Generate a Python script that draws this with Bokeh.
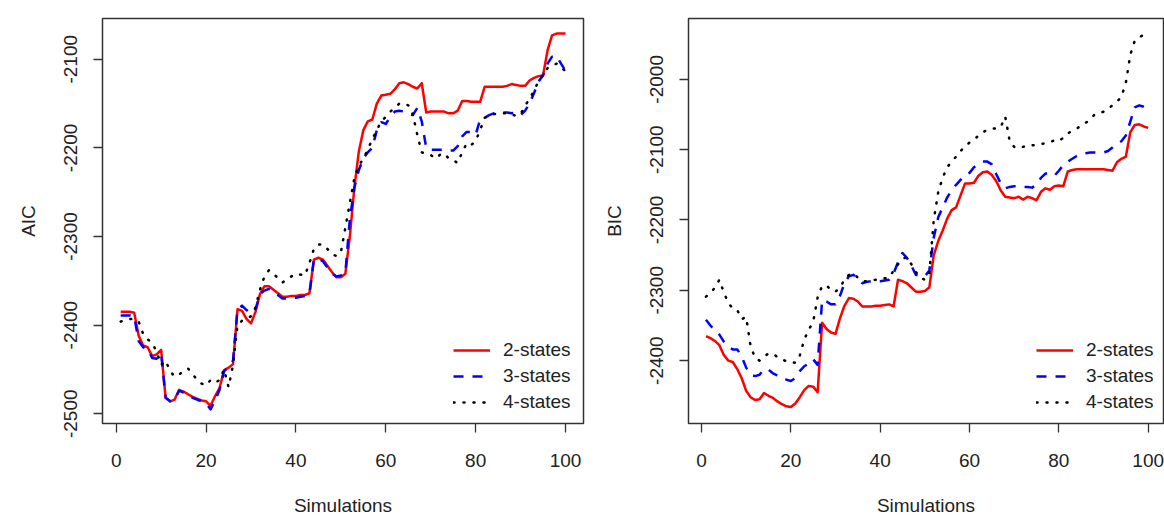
from bokeh.plotting import figure
from bokeh.layouts import row
from bokeh.models import FixedTicker, Range1d, Legend, LegendItem
from bokeh.embed import file_html
from bokeh.resources import INLINE

sims = list(range(1, 101))

aic_2states = [
    -2385, -2385, -2385, -2386, -2412, -2423, -2425, -2435, -2433, -2428,
    -2482, -2486, -2484, -2473, -2475, -2478, -2481, -2483, -2485, -2486,
    -2491, -2480, -2471, -2451, -2448, -2444, -2382, -2384, -2393, -2398,
    -2385, -2365, -2356, -2356, -2360, -2364, -2368, -2368, -2367, -2367,
    -2366, -2366, -2364, -2326, -2324, -2326, -2333, -2340, -2346, -2346,
    -2342, -2300, -2245, -2204, -2180, -2170, -2168, -2150, -2141, -2140,
    -2139, -2134, -2127, -2126, -2128, -2131, -2133, -2127, -2160, -2159,
    -2159, -2159, -2159, -2161, -2161, -2158, -2147, -2147, -2148, -2148,
    -2148, -2131, -2131, -2131, -2131, -2131, -2130, -2128, -2129, -2130,
    -2130, -2124, -2121, -2119, -2118, -2090, -2073, -2071, -2071, -2071]

aic_3states = [
    -2389, -2389, -2389, -2390, -2418, -2425, -2427, -2437, -2438, -2432,
    -2482, -2486, -2484, -2474, -2476, -2479, -2482, -2484, -2486, -2488,
    -2495, -2485, -2473, -2452, -2447, -2440, -2382, -2378, -2383, -2387,
    -2382, -2365, -2361, -2359, -2362, -2366, -2370, -2370, -2369, -2369,
    -2368, -2367, -2365, -2326, -2325, -2328, -2335, -2342, -2345, -2344,
    -2341, -2280, -2245, -2225, -2212, -2205, -2200, -2180, -2171, -2173,
    -2165, -2159, -2158, -2159, -2162, -2163, -2155, -2170, -2200, -2202,
    -2202, -2202, -2202, -2203, -2203, -2198, -2187, -2182, -2182, -2185,
    -2168, -2166, -2163, -2161, -2160, -2160, -2160, -2161, -2160, -2163,
    -2158, -2150, -2138, -2125, -2118, -2105, -2097, -2096, -2105, -2113]

aic_4states = [
    -2396, -2394, -2393, -2393, -2396, -2410, -2416, -2420, -2430, -2445,
    -2440, -2452, -2458, -2456, -2451, -2449, -2455, -2462, -2466, -2468,
    -2462, -2465, -2462, -2450, -2470, -2445, -2400, -2395, -2393, -2390,
    -2380, -2360, -2345, -2338, -2342, -2347, -2352, -2348, -2345, -2342,
    -2343, -2344, -2330, -2314, -2309, -2309, -2314, -2320, -2322, -2318,
    -2290, -2262, -2234, -2220, -2212, -2202, -2190, -2180, -2170, -2165,
    -2159, -2155, -2150, -2150, -2152, -2162, -2185, -2205, -2207, -2208,
    -2212, -2208, -2206, -2212, -2214, -2217, -2205, -2195, -2197, -2192,
    -2180, -2166, -2164, -2162, -2161, -2161, -2161, -2162, -2164, -2162,
    -2152, -2145, -2135, -2125, -2118, -2110, -2107, -2105, -2110, -2113]

bic_2states = [
    -2365, -2368, -2372, -2378, -2392, -2400, -2402, -2412, -2425, -2443,
    -2452, -2456, -2455, -2446, -2450, -2453, -2458, -2462, -2465, -2466,
    -2461, -2452, -2442, -2436, -2437, -2445, -2346, -2355, -2360, -2362,
    -2340, -2322, -2311, -2312, -2316, -2323, -2323, -2323, -2322, -2322,
    -2321, -2320, -2323, -2285, -2287, -2290, -2296, -2302, -2302, -2301,
    -2296, -2250, -2230, -2215, -2198, -2186, -2182, -2165, -2148, -2148,
    -2147, -2137, -2132, -2131, -2136, -2145, -2158, -2167, -2168, -2169,
    -2167, -2171, -2167, -2169, -2172, -2160, -2155, -2157, -2152, -2151,
    -2152, -2131, -2129, -2128, -2128, -2128, -2128, -2128, -2128, -2128,
    -2129, -2130, -2118, -2113, -2110, -2075, -2065, -2064, -2067, -2069]

bic_3states = [
    -2342, -2350, -2357, -2363, -2373, -2380, -2384, -2384, -2394, -2410,
    -2420, -2422, -2420, -2412, -2413, -2418, -2421, -2425, -2427, -2429,
    -2425, -2415, -2408, -2404, -2398, -2406, -2314, -2316, -2320, -2320,
    -2308, -2290, -2280, -2278, -2283, -2290, -2288, -2287, -2287, -2287,
    -2286, -2285, -2276, -2260, -2247, -2254, -2265, -2278, -2280, -2280,
    -2272, -2225, -2196, -2182, -2168, -2158, -2150, -2143, -2136, -2133,
    -2125, -2120, -2117, -2117, -2121, -2135, -2148, -2155, -2153, -2152,
    -2152, -2153, -2153, -2154, -2150, -2140, -2134, -2134, -2137, -2130,
    -2122, -2117, -2113, -2109, -2106, -2105, -2104, -2104, -2104, -2104,
    -2102, -2097, -2092, -2088, -2080, -2060, -2040, -2037, -2039, -2042]

bic_4states = [
    -2309, -2304, -2296, -2285, -2303, -2318, -2326, -2328, -2341, -2338,
    -2380, -2396, -2400, -2394, -2390, -2390, -2395, -2398, -2401, -2402,
    -2403, -2393, -2370, -2356, -2345, -2310, -2294, -2293, -2300, -2302,
    -2296, -2285, -2278, -2276, -2282, -2287, -2287, -2286, -2285, -2284,
    -2283, -2282, -2272, -2263, -2255, -2253, -2263, -2274, -2282, -2285,
    -2276, -2200, -2160, -2140, -2125, -2117, -2110, -2102, -2095, -2090,
    -2086, -2080, -2075, -2072, -2070, -2070, -2068, -2053, -2088, -2096,
    -2098, -2096, -2094, -2094, -2093, -2092, -2091, -2089, -2087, -2088,
    -2083, -2077, -2073, -2070, -2066, -2062, -2057, -2050, -2048, -2046,
    -2042, -2037, -2032, -2025, -2005, -1965, -1945, -1940, -1937, -1936]

series_names = ["2-states", "3-states", "4-states"]
x_ticks = [0, 20, 40, 60, 80, 100]
aic_ticks = [-2500, -2400, -2300, -2200, -2100]
bic_ticks = [-2400, -2300, -2200, -2100, -2000]

FONT = "Liberation Sans"
STYLES = [
    dict(line_color="#FF0000", line_width=2.5, line_dash="solid", line_join="round"),
    dict(line_color="#0000FF", line_width=2.5, line_dash="10 9", line_join="round"),
    dict(line_color="#000000", line_width=2.5, line_dash="1 9", line_cap="round", line_join="round"),
]

H = 518


def panel(width, xr, yr, border_left, border_right, frame_top, frame_bottom,
          ylabel, yticks, series, legend_xy):
    p = figure(width=width, height=H, output_backend="svg", toolbar_location=None,
               x_range=Range1d(*xr), y_range=Range1d(*yr),
               min_border_left=border_left, min_border_right=border_right,
               min_border_top=frame_top, min_border_bottom=H - frame_bottom)
    p.background_fill_color = "white"
    p.border_fill_color = "white"
    p.outline_line_color = "#333333"
    p.outline_line_width = 1.5
    p.xgrid.visible = False
    p.ygrid.visible = False

    p.xaxis.ticker = FixedTicker(ticks=x_ticks)
    p.xaxis.major_label_overrides = {t: str(t) for t in x_ticks}
    p.yaxis.ticker = FixedTicker(ticks=yticks)
    p.yaxis.major_label_overrides = {t: str(t) for t in yticks}
    p.yaxis.major_label_orientation = "vertical"
    p.xaxis.axis_label = "Simulations"
    p.yaxis.axis_label = ylabel
    for ax in (p.xaxis[0], p.yaxis[0]):
        ax.axis_line_color = None
        ax.major_tick_line_color = "#333333"
        ax.major_tick_line_width = 1.3
        ax.major_tick_out = 9
        ax.major_tick_in = 0
        ax.minor_tick_line_color = None
        ax.major_label_text_font = FONT
        ax.major_label_text_font_size = "19px"
        ax.major_label_text_color = "#222222"
        ax.axis_label_text_font = FONT
        ax.axis_label_text_font_size = "19px"
        ax.axis_label_text_font_style = "normal"
        ax.axis_label_text_color = "#222222"
    p.xaxis.major_label_standoff = 21
    p.xaxis.axis_label_standoff = 25
    p.yaxis.major_label_standoff = 16
    p.yaxis.axis_label_standoff = 23

    items = []
    for name, ys, st in zip(series_names, series, STYLES):
        r = p.line(sims, ys, **st)
        items.append(LegendItem(label=name, renderers=[r]))
    leg = Legend(items=items, location=legend_xy)
    leg.border_line_color = None
    leg.background_fill_alpha = 0
    leg.margin = 0
    leg.padding = 0
    leg.glyph_width = 37
    leg.glyph_height = 20
    leg.label_height = 20
    leg.spacing = 4
    leg.label_standoff = 13
    leg.label_text_font = FONT
    leg.label_text_font_size = "19px"
    leg.label_text_color = "#222222"
    p.add_layout(leg)
    return p


left = panel(588, (-3.05, 104.0), (-2511, -2054), 102, 5, 16, 424, "AIC", aic_ticks,
             [aic_2states, aic_3states, aic_4states], (351, 10))
right = panel(576, (-2.91, 103.43), (-2489.4, -1913.5), 100, 1, 18, 424, "BIC", bic_ticks,
              [bic_2states, bic_3states, bic_4states], (348, 10))

layout = row(left, right)
open("out.html", "w").write(file_html(layout, INLINE))
